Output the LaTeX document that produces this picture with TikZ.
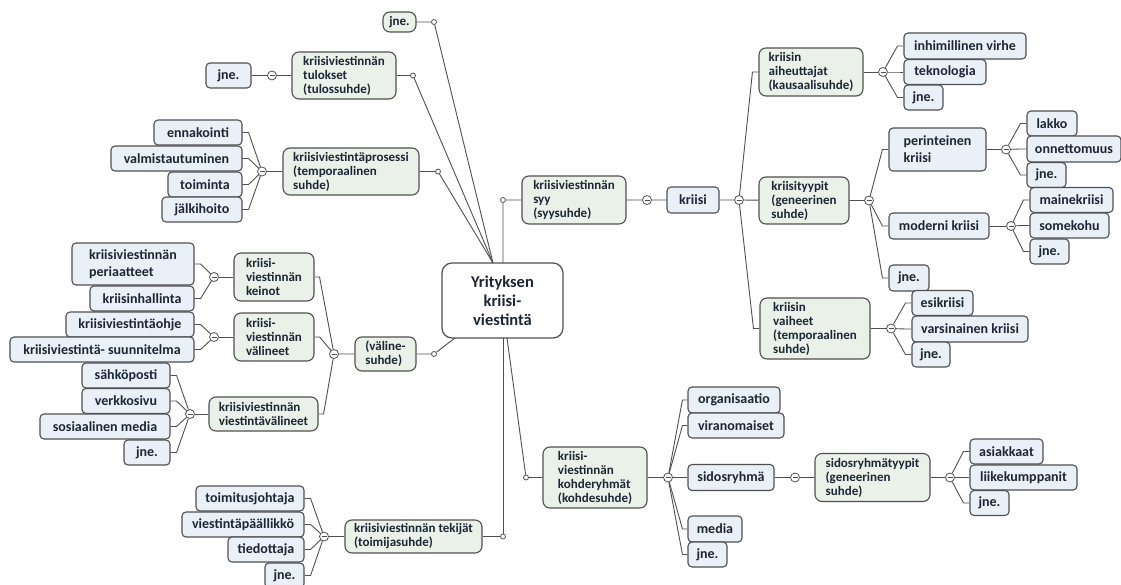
\documentclass[tikz,border=0pt]{standalone}
\usepackage{fontspec}
\setmainfont{Carlito}
\usetikzlibrary{calc}
\definecolor{linec}{RGB}{80,80,80}
\definecolor{textc}{RGB}{28,38,52}
\definecolor{leaff}{RGB}{234,240,248}
\definecolor{grnf}{RGB}{233,241,233}
\tikzset{
  leaf/.style={draw=linec,line width=1.1pt,fill=leaff,rounded corners=4pt,text=textc,
    font=\fontsize{14}{17}\selectfont\bfseries,align=left,inner sep=2pt,minimum height=25},
  grn/.style={draw=linec,line width=1.1pt,fill=grnf,rounded corners=7pt,text=textc,
    font=\fontsize{13}{14}\selectfont\bfseries,align=left,inner sep=2pt},
  rootbox/.style={draw=linec,line width=1.2pt,fill=white,rounded corners=10pt,text=textc,
    font=\fontsize{16.5}{19}\selectfont\bfseries,align=center,inner sep=2pt},
  minus/.style={circle,draw=linec,fill=white,line width=0.8pt,minimum size=9,inner sep=0pt,
    path picture={\draw[linec,line width=0.8pt] ([xshift=2pt]path picture bounding box.west)
      -- ([xshift=-2pt]path picture bounding box.east);}},
  dot/.style={circle,draw=linec,fill=white,line width=0.8pt,minimum size=5,inner sep=0pt},
  conn/.style={draw=linec,line width=0.9pt},
}
\begin{document}
\begin{tikzpicture}[x=1pt,y=-1pt]
  \fill[white] (0,0) rectangle (1121,585);
  \useasboundingbox (0,0) rectangle (1121,585);
  % keskus
  \node[rootbox,minimum width=121,minimum height=75] (root) at (502.5,300.5) {Yrityksen\\kriisi-\\viestintä};
  \coordinate (rn) at (493,263);\coordinate (rv) at (503,263);\coordinate (rs) at (503,338);
  \coordinate (rsw) at (455,338);\coordinate (rse) at (507,338);
  % vasen yla
  \node[grn,minimum width=33,minimum height=20] (jtop) at (399.5,22) {jne.};
  \node[grn,minimum width=104,minimum height=47] (tul) at (344,75.5) {kriisiviestinnän\\tulokset\\(tulossuhde)};
  \node[leaf,minimum width=45] (tulj) at (228.5,75.5) {jne.};
  \node[grn,minimum width=136,minimum height=47] (pros) at (351,171.5) {kriisiviestintäprosessi\\(temporaalinen\\suhde)};
  \node[leaf,minimum width=88] (ennak) at (198,132.5) {ennakointi};
  \node[leaf,minimum width=131] (valm) at (176.5,158.5) {valmistautuminen};
  \node[leaf,minimum width=74] (toim) at (205,184.5) {toiminta};
  \node[leaf,minimum width=80] (jalk) at (202,209.5) {jälkihoito};
  \node[dot] (d1) at (434,22) {};\node[dot] (d2) at (413,75.5) {};\node[dot] (d3) at (438,171.5) {};
  \node[minus] (m2) at (272,75.5) {};\node[minus] (m3) at (262,171.5) {};
  % vasen keski
  \node[grn,minimum width=61,minimum height=34] (valsuhde) at (385.5,354) {(väline-\\suhde)};
  \node[grn,minimum width=80,minimum height=48] (kein) at (274,277) {kriisi-\\viestinnän\\keinot};
  \node[grn,minimum width=80,minimum height=48] (valin) at (274,337) {kriisi-\\viestinnän\\välineet};
  \node[grn,minimum width=109,minimum height=34] (vvalin) at (263.5,414) {kriisiviestinnän\\viestintävälineet};
  \node[leaf,minimum width=122,minimum height=42] (periaat) at (133,264) {kriisiviestinnän\\periaatteet};
  \node[leaf,minimum width=104] (hallinta) at (142,298.5) {kriisinhallinta};
  \node[leaf,minimum width=128] (ohje) at (130,324.5) {kriisiviestintäohje};
  \node[leaf,minimum width=184] (suunn) at (102,349.5) {kriisiviestintä- suunnitelma};
  \node[leaf,minimum width=88] (sahko) at (126,375.5) {sähköposti};
  \node[leaf,minimum width=88] (verkko) at (126,401) {verkkosivu};
  \node[leaf,minimum width=130] (some) at (105,426.5) {sosiaalinen media};
  \node[leaf,minimum width=46] (vvj) at (147,452.5) {jne.};
  \node[dot] (d4) at (434,354) {};
  \node[minus] (m4) at (334,354) {};\node[minus] (m5) at (214,277) {};
  \node[minus] (m6) at (214,337) {};\node[minus] (m7) at (190,414) {};
  % vasen ala
  \node[grn,minimum width=137,minimum height=33] (tek) at (413.5,536.5) {kriisiviestinnän tekijät\\(toimijasuhde)};
  \node[leaf,minimum width=108] (tjoht) at (250,498.5) {toimitusjohtaja};
  \node[leaf,minimum width=122] (vpaal) at (243,524.5) {viestintäpäällikkö};
  \node[leaf,minimum width=76] (tiedot) at (266,549.5) {tiedottaja};
  \node[leaf,minimum width=39] (tekj) at (284.5,575.5) {jne.};
  \node[dot] (d5) at (503,536.5) {};\node[minus] (m8) at (324,536.5) {};
  % oikea yla
  \node[grn,minimum width=104,minimum height=48] (syy) at (574,200) {kriisiviestinnän\\syy\\(syysuhde)};
  \node[leaf,minimum width=52,minimum height=26] (kriisi) at (693,200) {kriisi};
  \node[grn,minimum width=104,minimum height=48] (aih) at (811,72) {kriisin\\aiheuttajat\\(kausaalisuhde)};
  \node[grn,minimum width=90,minimum height=47] (tyyp) at (804,200.5) {kriisityypit\\(geneerinen\\suhde)};
  \node[grn,minimum width=110,minimum height=61] (vaih) at (815,328.5) {kriisin\\vaiheet\\(temporaalinen\\suhde)};
  \node[leaf,minimum width=122,minimum height=26] (virhe) at (965,46) {inhimillinen virhe};
  \node[leaf,minimum width=82] (tekno) at (945,72) {teknologia};
  \node[leaf,minimum width=39] (aihj) at (923.5,97.5) {jne.};
  \node[leaf,minimum width=97,minimum height=43] (perint) at (937.5,149.5) {perinteinen\\kriisi};
  \node[leaf,minimum width=100,minimum height=26] (mod) at (939,226) {moderni kriisi};
  \node[leaf,minimum width=40,minimum height=26] (tyypj) at (909,278) {jne.};
  \node[leaf,minimum width=50] (lakko) at (1052,123.5) {lakko};
  \node[leaf,minimum width=94,minimum height=26] (onnett) at (1074,149) {onnettomuus};
  \node[leaf,minimum width=39] (perj) at (1046.5,175) {jne.};
  \node[leaf,minimum width=83] (maine) at (1071.5,200) {mainekriisi};
  \node[leaf,minimum width=79] (somek) at (1069.5,225.5) {somekohu};
  \node[leaf,minimum width=39] (modj) at (1049.5,251.5) {jne.};
  \node[leaf,minimum width=61] (esik) at (942.5,303) {esikriisi};
  \node[leaf,minimum width=116,minimum height=26] (varsin) at (970,329) {varsinainen kriisi};
  \node[leaf,minimum width=38] (vaihj) at (931,354.5) {jne.};
  \node[dot] (d6) at (503,200) {};
  \node[minus] (m9) at (647,200) {};\node[minus] (m10) at (739,200) {};
  \node[minus] (m11) at (883,72) {};\node[minus] (m12) at (869,200.5) {};
  \node[minus] (m13) at (1006,149.5) {};\node[minus] (m14) at (1011,226) {};
  \node[minus] (m15) at (891,328.5) {};
  % oikea ala
  \node[grn,minimum width=104,minimum height=61] (koh) at (595,477.5) {kriisi-\\viestinnän\\kohderyhmät\\(kohdesuhde)};
  \node[leaf,minimum width=92,minimum height=26] (org) at (734,400) {organisaatio};
  \node[leaf,minimum width=96] (viran) at (736,425.5) {viranomaiset};
  \node[leaf,minimum width=86,minimum height=26] (sidos) at (731,477.5) {sidosryhmä};
  \node[leaf,minimum width=54,minimum height=26] (media) at (715,529) {media};
  \node[leaf,minimum width=39] (kohj) at (707.5,554.5) {jne.};
  \node[grn,minimum width=115,minimum height=48] (styyp) at (872.5,477.5) {sidosryhmätyypit\\(geneerinen\\suhde)};
  \node[leaf,minimum width=73] (asiak) at (1006.5,451.5) {asiakkaat};
  \node[leaf,minimum width=107] (liike) at (1023.5,477.5) {liikekumppanit};
  \node[leaf,minimum width=39] (styypj) at (989.5,503) {jne.};
  \node[dot] (d7) at (526,477.5) {};
  \node[minus] (m16) at (668,477.5) {};\node[minus] (m17) at (795,477.5) {};\node[minus] (m18) at (950,477.5) {};
  % yhteydet
  \draw[conn] (rn)--(d1)--(jtop);
  \draw[conn] (rn)--(d2)--(tul)--(m2)--(tulj);
  \draw[conn] (rn)--(d3)--(pros)--(m3);
  \draw[conn] (m3)--($(ennak.east)+(6,0)$)--(ennak.east);
  \draw[conn] (m3)--($(valm.east)+(6,0)$)--(valm.east);
  \draw[conn] (m3)--($(toim.east)+(6,0)$)--(toim.east);
  \draw[conn] (m3)--($(jalk.east)+(6,0)$)--(jalk.east);
  \draw[conn] (rsw)--(d4)--(valsuhde)--(m4);
  \draw[conn] (m4)--($(kein.east)+(5,0)$)--(kein.east);
  \draw[conn] (m4)--($(valin.east)+(5,0)$)--(valin.east);
  \draw[conn] (m4)--($(vvalin.east)+(5,0)$)--(vvalin.east);
  \draw[conn] (kein)--(m5);\draw[conn] (valin)--(m6);\draw[conn] (vvalin)--(m7);
  \draw[conn] (m5)--($(periaat.east)+(6,0)$)--(periaat.east);
  \draw[conn] (m5)--($(hallinta.east)+(6,0)$)--(hallinta.east);
  \draw[conn] (m6)--($(ohje.east)+(6,0)$)--(ohje.east);
  \draw[conn] (m6)--($(suunn.east)+(6,0)$)--(suunn.east);
  \draw[conn] (m7)--($(sahko.east)+(6,0)$)--(sahko.east);
  \draw[conn] (m7)--($(verkko.east)+(6,0)$)--(verkko.east);
  \draw[conn] (m7)--($(some.east)+(6,0)$)--(some.east);
  \draw[conn] (m7)--($(vvj.east)+(6,0)$)--(vvj.east);
  \draw[conn] (rs)--(d5)--(tek)--(m8);
  \draw[conn] (m8)--($(tjoht.east)+(6,0)$)--(tjoht.east);
  \draw[conn] (m8)--($(vpaal.east)+(6,0)$)--(vpaal.east);
  \draw[conn] (m8)--($(tiedot.east)+(6,0)$)--(tiedot.east);
  \draw[conn] (m8)--($(tekj.east)+(6,0)$)--(tekj.east);
  \draw[conn] (rv)--(d6)--(syy)--(m9)--(kriisi)--(m10)--(tyyp)--(m12);
  \draw[conn] (m10)--($(aih.west)+(-6,0)$)--(aih.west);
  \draw[conn] (m10)--($(vaih.west)+(-6,0)$)--(vaih.west);
  \draw[conn] (aih)--(m11);\draw[conn] (vaih)--(m15);
  \draw[conn] (m11)--($(virhe.west)+(-6,0)$)--(virhe.west);
  \draw[conn] (m11)--($(tekno.west)+(-6,0)$)--(tekno.west);
  \draw[conn] (m11)--($(aihj.west)+(-6,0)$)--(aihj.west);
  \draw[conn] (m12)--($(perint.west)+(-6,0)$)--(perint.west);
  \draw[conn] (m12)--($(mod.west)+(-6,0)$)--(mod.west);
  \draw[conn] (m12)--($(tyypj.west)+(-6,0)$)--(tyypj.west);
  \draw[conn] (perint)--(m13);\draw[conn] (mod)--(m14);
  \draw[conn] (m13)--($(lakko.west)+(-6,0)$)--(lakko.west);
  \draw[conn] (m13)--($(onnett.west)+(-6,0)$)--(onnett.west);
  \draw[conn] (m13)--($(perj.west)+(-6,0)$)--(perj.west);
  \draw[conn] (m14)--($(maine.west)+(-6,0)$)--(maine.west);
  \draw[conn] (m14)--($(somek.west)+(-6,0)$)--(somek.west);
  \draw[conn] (m14)--($(modj.west)+(-6,0)$)--(modj.west);
  \draw[conn] (m15)--($(esik.west)+(-6,0)$)--(esik.west);
  \draw[conn] (m15)--($(varsin.west)+(-6,0)$)--(varsin.west);
  \draw[conn] (m15)--($(vaihj.west)+(-6,0)$)--(vaihj.west);
  \draw[conn] (rse)--(d7)--(koh)--(m16);
  \draw[conn] (m16)--($(org.west)+(-5,0)$)--(org.west);
  \draw[conn] (m16)--($(viran.west)+(-5,0)$)--(viran.west);
  \draw[conn] (m16)--($(sidos.west)+(-5,0)$)--(sidos.west);
  \draw[conn] (m16)--($(media.west)+(-5,0)$)--(media.west);
  \draw[conn] (m16)--($(kohj.west)+(-5,0)$)--(kohj.west);
  \draw[conn] (sidos)--(m17)--(styyp)--(m18);
  \draw[conn] (m18)--($(asiak.west)+(-6,0)$)--(asiak.west);
  \draw[conn] (m18)--($(liike.west)+(-6,0)$)--(liike.west);
  \draw[conn] (m18)--($(styypj.west)+(-6,0)$)--(styypj.west);
\end{tikzpicture}
\end{document}
